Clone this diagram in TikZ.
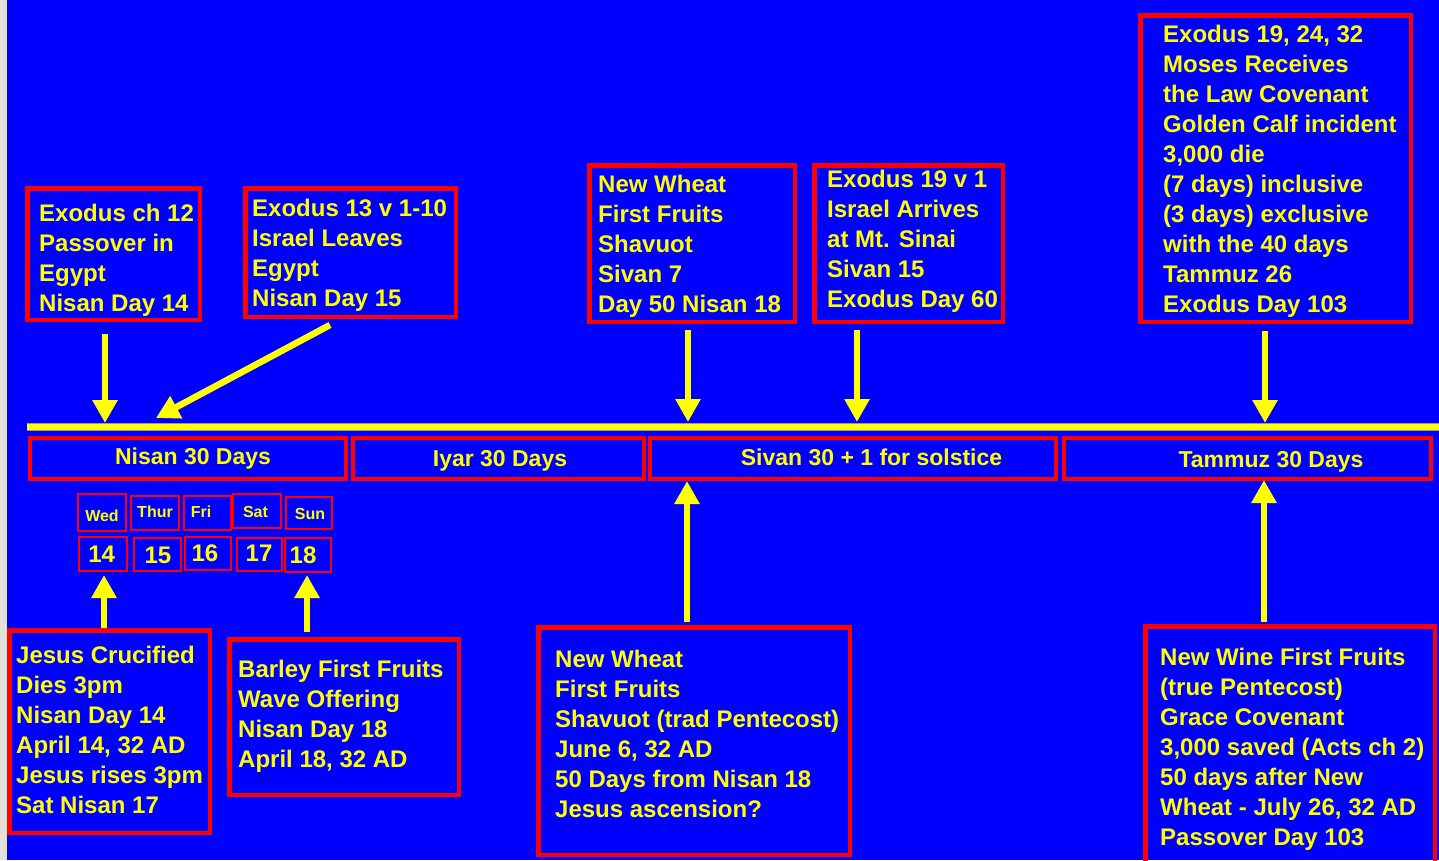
\documentclass[tikz,border=0pt]{standalone}
\usepackage{fontspec}
\setmainfont{Liberation Sans}
\usetikzlibrary{arrows.meta}
\definecolor{bg}{RGB}{0,0,255}
\definecolor{ylw}{RGB}{255,255,0}
\definecolor{rd}{RGB}{255,0,0}
\definecolor{strip}{RGB}{228,224,218}
\begin{document}
\begin{tikzpicture}[x=1pt,y=-1pt,
  box/.style 2 args={draw=rd, line width=4.5pt, inner sep=0pt, minimum width=#1, minimum height=#2},
  mbox/.style 2 args={draw=rd, line width=4pt, inner sep=0pt, minimum width=#1, minimum height=#2},
  dbox/.style 2 args={draw=rd, line width=2pt, inner sep=0pt, minimum width=#1, minimum height=#2},
  txt/.style={anchor=north west, inner sep=0pt, text=ylw, align=left,
              font=\fontsize{24}{30}\selectfont\bfseries},
  mtxt/.style={anchor=base, inner sep=0pt, text=ylw, font=\fontsize{23}{27}\selectfont\bfseries},
  dtxt/.style={anchor=base, inner sep=0pt, text=ylw, font=\fontsize{16}{19}\selectfont\bfseries},
  ntxt/.style={anchor=base, inner sep=0pt, text=ylw, font=\fontsize{24}{28}\selectfont\bfseries},
  arr/.style={draw=ylw, line width=6.5pt, -{Triangle[width=24pt,length=23pt]}},
]
\useasboundingbox (0,0) rectangle (1439,860);
\fill[strip] (0,0) rectangle (7,860);
\fill[bg] (7,0) rectangle (1439,860);

% timeline
\coordinate (tl1) at (27,427);
\coordinate (tl2) at (1439,427);
\draw[line width=8.5pt, draw=gray!80] (tl1) -- (tl2);
\draw[line width=6.5pt, draw=ylw] (tl1) -- (tl2);

% month boxes
\node[mbox={316pt}{41pt}] (nisan) at (188,458.5) {};
\node[mbox={291pt}{41pt}] (iyar) at (498.5,458.5) {};
\node[mbox={406pt}{41pt}] (sivan) at (853,458.5) {};
\node[mbox={367pt}{41pt}] (tammuz) at (1247.5,458.5) {};
\node[mtxt] (nisanT) at (193,464) {Nisan 30 Days};
\node[mtxt] (iyarT) at (500,466) {Iyar 30 Days};
\node[mtxt] (sivanT) at (871.5,465) {Sivan 30 + 1 for solstice};
\node[mtxt] (tammuzT) at (1271,467) {Tammuz 30 Days};

% day boxes
\node[dbox={48pt}{37pt}] (dWed) at (102,512.5) {};
\node[dbox={48pt}{34pt}] (dThu) at (155,513) {};
\node[dbox={47pt}{34pt}] (dFri) at (207.5,513) {};
\node[dbox={48pt}{34pt}] (dSat) at (257,511) {};
\node[dbox={46pt}{32pt}] (dSun) at (309,513) {};
\node[dtxt] (tWed) at (102,521) {Wed};
\node[dtxt] (tThu) at (155,517) {Thur};
\node[dtxt] (tFri) at (201,517) {Fri};
\node[dtxt] (tSat) at (255.5,517) {Sat};
\node[dtxt] (tSun) at (310,519) {Sun};
\node[dbox={48pt}{34pt}] (n14) at (103,554) {};
\node[dbox={47pt}{33pt}] (n15) at (157.5,554.5) {};
\node[dbox={46pt}{33pt}] (n16) at (208,553.5) {};
\node[dbox={45pt}{33pt}] (n17) at (259.5,554.5) {};
\node[dbox={46pt}{34pt}] (n18) at (308,555) {};
\node[ntxt] (t14) at (101.7,562) {14};
\node[ntxt] (t15) at (158,563) {15};
\node[ntxt] (t16) at (205,561) {16};
\node[ntxt] (t17) at (259,561) {17};
\node[ntxt] (t18) at (303,563) {18};

% event boxes (top)
\node[box={172.5pt}{131.5pt}] (bA) at (113.5,254) {};
\node[box={210.5pt}{128.5pt}] (bB) at (350.5,252.5) {};
\node[box={205.5pt}{156.5pt}] (bG) at (692,243.5) {};
\node[box={188.5pt}{156.5pt}] (bH) at (908.5,243.5) {};
\node[box={270.5pt}{306.5pt}] (bI) at (1275.5,168.5) {};
% event boxes (bottom)
\node[box={200.5pt}{202.5pt}] (bC) at (109.5,731.5) {};
\node[box={229.5pt}{155.5pt}] (bD) at (344,717) {};
\node[box={311.5pt}{227.5pt}] (bE) at (694,741) {};
\node[box={289.5pt}{243.5pt}] (bF) at (1290,748) {};

\node[txt] (xA) at (39,201) {\rule{0pt}{20pt}Exodus ch 12\\Passover in\\Egypt\\Nisan Day 14};
\node[txt] (xB) at (252,196) {\rule{0pt}{20pt}Exodus 13 v 1-10\\Israel Leaves\\Egypt\\Nisan Day 15};
\node[txt] (xG) at (598,172) {\rule{0pt}{20pt}New Wheat\\First Fruits\\Shavuot\\Sivan 7\\Day 50 Nisan 18};
\node[txt] (xH) at (827,167) {\rule{0pt}{20pt}Exodus 19 v 1\\Israel Arrives\\at Mt. Sinai\\Sivan 15\\Exodus Day 60};
\node[txt] (xI) at (1163,22) {\rule{0pt}{20pt}Exodus 19, 24, 32\\Moses Receives\\the Law Covenant\\Golden Calf incident\\3,000 die\\(7 days) inclusive\\(3 days) exclusive\\with the 40 days\\Tammuz 26\\Exodus Day 103};
\node[txt] (xC) at (16,643) {\rule{0pt}{20pt}Jesus Crucified\\Dies 3pm\\Nisan Day 14\\April 14, 32 AD\\Jesus rises 3pm\\Sat Nisan 17};
\node[txt] (xD) at (238,657) {\rule{0pt}{20pt}Barley First Fruits\\Wave Offering\\Nisan Day 18\\April 18, 32 AD};
\node[txt] (xE) at (555,647) {\rule{0pt}{20pt}New Wheat\\First Fruits\\Shavuot (trad Pentecost)\\June 6, 32 AD\\50 Days from Nisan 18\\Jesus ascension?};
\node[txt] (xF) at (1160,645) {\rule{0pt}{20pt}New Wine First Fruits\\(true Pentecost)\\Grace Covenant\\3,000 saved (Acts ch 2)\\50 days after New\\Wheat - July 26, 32 AD\\Passover Day 103};

% arrow tip points
\coordinate (tA) at (105,423);
\coordinate (tB) at (156,418);
\coordinate (tG) at (688,422);
\coordinate (tH) at (857,422);
\coordinate (tI) at (1265,423);
\coordinate (tC) at (104,575);
\coordinate (tD) at (307,575);
\coordinate (tE) at (687,481);
\coordinate (tF) at (1264,480);

% arrows
\draw[arr, shorten <=12pt] (tA |- bA.south) -- (tA);
\draw[arr] ([xshift=-20.5pt,yshift=-6pt]bB.south) -- (tB);
\draw[arr, shorten <=6pt] (tG |- bG.south) -- (tG);
\draw[arr, shorten <=6pt] (tH |- bH.south) -- (tH);
\draw[arr, shorten <=7pt] (tI |- bI.south) -- (tI);
\draw[arr] (tC |- bC.north) -- (tC);
\draw[arr, shorten <=5pt] (tD |- bD.north) -- (tD);
\draw[arr, shorten <=3pt] (tE |- bE.north) -- (tE);
\draw[arr, shorten <=2pt] (tF |- bF.north) -- (tF);
\end{tikzpicture}
\end{document}
